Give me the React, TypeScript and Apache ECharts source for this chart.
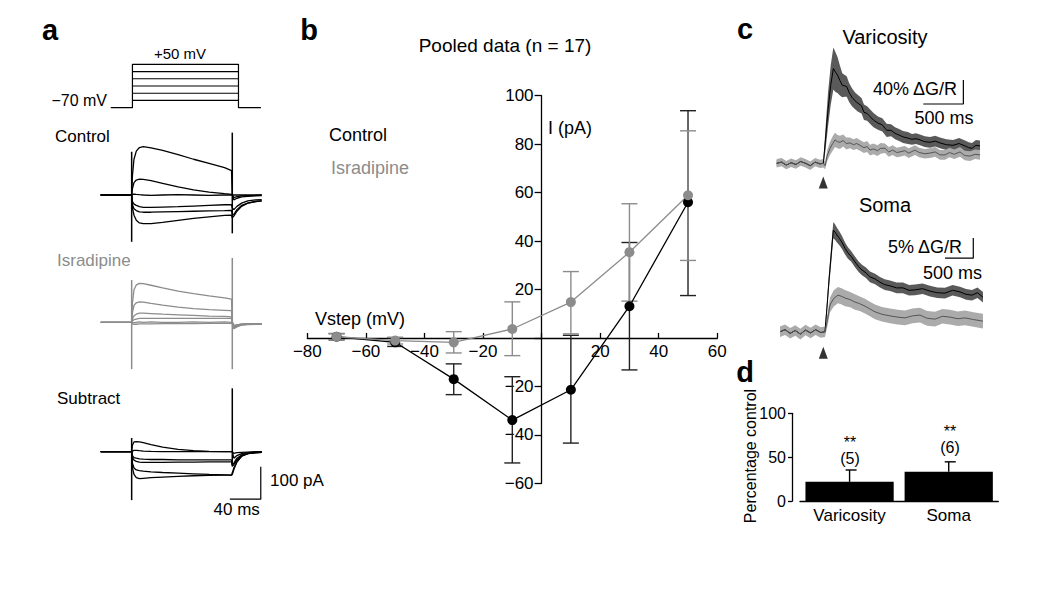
import React, { useEffect, useRef } from 'react';
import * as echarts from 'echarts';

const FONT = '"Liberation Sans", Arial, Helvetica, sans-serif';
const GRAY = '#8c8c8c';

// ---------- Panel a: voltage protocol and current traces ----------
const protoLevels = [-70, -50, -30, -10, 10, 30, 50];
const protoTimes = [13, 41, 178, 207]; // baseline start, step on, step off, baseline end (ms)
const traceT = [0, 39, 40, 41, 43, 46, 50, 55, 65, 80, 100, 120, 140, 160, 169, 170, 172, 176, 182, 190, 200, 208];
const controlTraces = [
  [0, 0, 0, 60, 110, 135, 146, 149, 145, 137, 124, 110, 97, 84, 75, 0, 0, 0, 0, 0, 0, 0],
  [0, 0, 0, 20, 38, 46, 49, 48, 44, 36, 25, 16, 9, 4, 2, 0, -8, -5, -3, -2, -1, 0],
  [0, 0, 0, 2, 3, 2, 1, 0, -1, 0, 1, 0, -1, 0, 0, 0, -15, -10, -6, -4, -3, -2],
  [0, 0, 0, -20, -28, -32, -36, -38, -38, -37, -36, -34, -32, -30, -30, -40, -45, -35, -25, -18, -15, -14],
  [0, 0, 0, -30, -42, -48, -52, -53, -53, -52, -51, -50, -49, -48, -47, -60, -60, -45, -32, -25, -20, -18],
  [0, 0, 0, -40, -62, -78, -86, -88, -88, -84, -78, -72, -67, -63, -62, -70, -65, -50, -35, -25, -20, -18],
];
const isradipineTraces = [
  [0, 0, 0, 60, 100, 115, 120, 119, 114, 106, 96, 88, 81, 75, 71, 0, -10, -8, -6, -5, -5, -5],
  [0, 0, 0, 30, 52, 60, 63, 62, 58, 53, 47, 42, 39, 37, 36, 0, -10, -8, -6, -5, -5, -5],
  [0, 0, 0, 10, 20, 25, 28, 28, 27, 25, 23, 21, 19, 18, 17, 0, -12, -9, -6, -5, -5, -5],
  [0, 0, 0, 4, 8, 10, 12, 12, 12, 12, 12, 12, 12, 12, 12, 0, -15, -10, -7, -5, -5, -5],
  [0, 0, 0, -2, -1, 0, 1, 0, 1, 0, 0, 1, 0, 1, 0, 0, -18, -12, -8, -6, -5, -5],
  [0, 0, 0, -5, -6, -6, -5, -5, -5, -4, -4, -4, -3, -3, -3, -5, -20, -14, -9, -7, -6, -5],
];
const subtractTraces = [
  [0, 0, 0, 20, 30, 31, 30, 28, 22, 14, 7, 3, 1, 0, 0, 0, -5, -3, -2, -1, 0, 0],
  [0, 0, 0, 2, 4, 4, 3, 2, 1, 0, 0, 0, 0, 0, 0, 0, -20, -12, -6, -3, -1, 0],
  [0, 0, 0, -12, -18, -20, -22, -23, -24, -24, -25, -25, -25, -25, -25, -40, -35, -20, -10, -5, -3, -2],
  [0, 0, 0, -18, -26, -30, -32, -33, -33, -33, -32, -32, -31, -31, -31, -45, -40, -25, -12, -6, -3, -2],
  [0, 0, 0, -35, -50, -56, -58, -60, -62, -64, -66, -68, -70, -71, -72, -65, -50, -30, -14, -6, -3, -2],
  [0, 0, 0, -50, -70, -80, -83, -82, -80, -78, -76, -74, -73, -72, -72, -70, -55, -32, -14, -6, -3, -2],
];
// capacitive transients: [time, high, low]
const controlTransients = [[40, 133, -144], [170, 192, -118]];
const isradipineTransients = [[40, 130, -144], [170, 198, -144]];
const subtractTransients = [[40, 42, -149], [170, 195, -40]];
const scaleA = { ms: 40, pA: 100, t: 206.8, y: -146 };

// ---------- Panel b: I-V relation ----------
const vstep = [-70, -50, -30, -10, 10, 30, 50];
const ctrlMean = [0.5, -1.8, -17, -33.9, -21.4, 13.1, 56];
const ctrlLow = [-0.8, -3.5, -23.4, -51.6, -43.4, -13.2, 17.5];
const ctrlHigh = [1.8, 0, -10.7, -16, 1.1, 39.4, 93.8];
const israMean = [0.5, -1.1, -1.8, 3.7, 14.8, 35.4, 58.9];
const israLow = [-0.8, -2.5, -6.2, -7.3, 1.7, 15.2, 32];
const israHigh = [1.8, 0.3, 2.6, 14.9, 27.4, 55.4, 85.5];
const ivX = { min: -80, max: 60, interval: 20 };
const ivY = { min: -60, max: 100, interval: 20 };

// ---------- Panel c: Ca transients (%ΔG/R) ----------
const varBlackT = [0, 60, 120, 180, 240, 300, 360, 420, 480, 540, 583, 610, 641, 675, 708, 735, 760, 790, 820, 850, 875, 905, 941, 980, 1016, 1060, 1091, 1130, 1166, 1210, 1266, 1320, 1375, 1430, 1479, 1530, 1579, 1640, 1691, 1740, 1791, 1850, 1916, 1980, 2041, 2120, 2204, 2280, 2354, 2400, 2441, 2490, 2541];
const varBlackM = [0, 2, -3, 1, -2, 3, 0, -4, 2, -1, 0, 40, 89, 130, 158, 152, 147, 138, 130, 129, 128, 118, 110, 104, 100, 96, 85, 83, 78, 72, 67, 64, 55, 55, 50, 47, 44, 42, 40, 41, 39, 36, 35, 37, 34, 31, 30, 33, 29, 26, 25, 30, 29];
const varBlackSd = [5, 5, 5, 5, 5, 5, 5, 5, 5, 5, 5, 18, 28, 33, 35, 33, 30, 25, 20, 18, 17, 16, 15, 14, 14, 13, 13, 12, 12, 12, 11, 11, 11, 10, 10, 10, 10, 10, 9, 9, 9, 9, 9, 9, 9, 9, 9, 9, 9, 9, 9, 9, 9];
const varGrayT = [0, 60, 120, 180, 240, 300, 360, 420, 480, 540, 583, 605, 630, 666, 700, 729, 760, 791, 830, 870, 916, 960, 1000, 1041, 1090, 1130, 1166, 1210, 1260, 1300, 1354, 1400, 1450, 1500, 1541, 1600, 1650, 1729, 1780, 1850, 1916, 1980, 2040, 2104, 2160, 2220, 2291, 2350, 2416, 2480, 2541];
const varGrayM = [0, 2, -3, 1, -2, 3, 0, -4, 2, -1, 0, -4, 12, 25, 33, 39, 36, 35, 38, 33, 34, 31, 33, 30, 26, 28, 22, 24, 21, 25, 25, 19, 22, 18, 19, 21, 17, 22, 18, 16, 17, 19, 14, 14, 18, 15, 19, 13, 12, 15, 14];
const varGraySd = [7, 7, 7, 7, 7, 7, 7, 7, 7, 7, 7, 6, 9, 11, 12, 12, 11, 11, 10, 10, 9, 9, 9, 9, 9, 9, 9, 9, 9, 9, 8, 8, 8, 8, 8, 8, 8, 8, 8, 8, 8, 8, 8, 8, 8, 8, 8, 8, 8, 8, 8];
const somaBlackT = [0, 90, 180, 270, 360, 450, 540, 630, 720, 795, 830, 866, 905, 942, 975, 1007, 1050, 1096, 1150, 1201, 1260, 1325, 1390, 1449, 1520, 1590, 1680, 1767, 1850, 1944, 2060, 2173, 2280, 2385, 2520, 2651, 2780, 2916, 3050, 3181, 3290, 3393, 3490, 3587];
const somaBlackM = [0, 0.5, -0.4, 0.3, -0.6, 0.4, -0.3, 0.5, -0.2, 0, 6, 12.7, 19, 25, 24.5, 23.8, 23, 22, 20.5, 19.4, 18.5, 17.2, 16, 15.2, 14.5, 13.5, 13, 12.2, 11.6, 11.3, 10.8, 10.8, 10.2, 10.3, 10.6, 10, 9.6, 9.5, 10.2, 9.8, 9.2, 9, 9.6, 8.5];
const somaBlackSd = [1, 1, 1, 1, 1, 1, 1, 1, 1, 1, 1.5, 1.8, 2, 2, 1.9, 1.8, 1.7, 1.6, 1.5, 1.4, 1.3, 1.3, 1.3, 1.3, 1.3, 1.3, 1.3, 1.3, 1.3, 1.3, 1.3, 1.3, 1.3, 1.3, 1.3, 1.3, 1.3, 1.3, 1.3, 1.3, 1.3, 1.3, 1.3, 1.3];
const somaGrayT = [0, 90, 180, 270, 360, 450, 540, 630, 720, 795, 840, 884, 950, 1025, 1090, 1149, 1240, 1325, 1410, 1502, 1590, 1679, 1800, 1944, 2080, 2209, 2340, 2474, 2600, 2739, 2870, 3004, 3140, 3269, 3420, 3587];
const somaGrayM = [0, 0.5, -0.4, 0.3, -0.6, 0.4, -0.3, 0.5, -0.2, 0, 3, 6.6, 8.2, 9, 8.7, 8.3, 7.9, 7.3, 6.9, 6.3, 5.6, 4.9, 4.3, 3.9, 3.6, 3.4, 3.9, 4.1, 3.3, 3.1, 3.8, 3.6, 3.2, 3.4, 3.0, 2.6];
const somaGraySd = [1.3, 1.3, 1.3, 1.3, 1.3, 1.3, 1.3, 1.3, 1.3, 1.3, 1.5, 1.8, 2, 2, 2, 2, 1.9, 1.9, 1.8, 1.8, 1.8, 1.8, 1.8, 1.8, 1.8, 1.8, 1.8, 1.8, 1.8, 1.8, 1.8, 1.8, 1.8, 1.8, 1.8, 1.8];
const varStim = [582, -32];
const somaStim = [765, -5.2];
const varScale = { ms: 500, pct: 40, t: 2333, y: 98.8 };
const somaScale = { ms: 500, pct: 5, t: 3416, y: 18.1 };

// ---------- Panel d: summary bars ----------
const dCats = ['Varicosity', 'Soma'];
const dValues = [22, 33.4];
const dErr = [35.5, 44.8];
const dStars = ['**', '**'];
const dN = ['(5)', '(6)'];

function hiddenAxes(g: number, xmin: number, xmax: number, ymin: number, ymax: number) {
  return {
    x: { gridIndex: g, type: 'value', min: xmin, max: xmax, show: false },
    y: { gridIndex: g, type: 'value', min: ymin, max: ymax, show: false },
  };
}

function plain(g: number, data: number[][], color: string, width = 1.3, extra: any = {}) {
  return {
    type: 'line', xAxisIndex: g, yAxisIndex: g, data, symbol: 'none', silent: true, clip: false,
    lineStyle: { color, width }, ...extra,
  };
}

function traceSeries(g: number, traces: number[][], transients: number[][], color: string) {
  const out: any[] = [];
  traces.forEach((tr) => out.push(plain(g, traceT.map((t, i) => [t, tr[i]]), color, 1.3)));
  transients.forEach(([t, hi, lo]) => out.push(plain(g, [[t, hi], [t, lo]], color, 1.5)));
  return out;
}

// band (mean ± sd) drawn as one polygon through the axis scale
function bandSeries(g: number, t: number[], m: number[], sd: number[], bandColor: string) {
  const data = t.map((x, i) => [x, m[i] - sd[i], m[i] + sd[i]]);
  return {
    type: 'custom', xAxisIndex: g, yAxisIndex: g, silent: true, data,
    encode: { x: 0, y: [1, 2] },
    renderItem: (params: any, api: any) => {
      if (params.dataIndex !== 0) return null;
      const upper = data.map((d) => api.coord([d[0], d[2]]));
      const lower = data.map((d) => api.coord([d[0], d[1]])).reverse();
      return { type: 'polygon', shape: { points: upper.concat(lower) }, style: { fill: bandColor, stroke: 'none' } };
    },
  };
}

function errorBars(g: number, xs: number[], lo: number[], hi: number[], color: string, cap: number) {
  return {
    type: 'custom', xAxisIndex: g, yAxisIndex: g, silent: true,
    data: xs.map((x, i) => [x, lo[i], hi[i]]),
    encode: { x: 0, y: [1, 2] },
    renderItem: (params: any, api: any) => {
      const a = api.coord([api.value(0), api.value(1)]);
      const b = api.coord([api.value(0), api.value(2)]);
      const st = { stroke: color, lineWidth: 1.4 };
      return {
        type: 'group',
        children: [
          { type: 'line', shape: { x1: a[0], y1: a[1], x2: b[0], y2: b[1] }, style: st },
          { type: 'line', shape: { x1: a[0] - cap, y1: a[1], x2: a[0] + cap, y2: a[1] }, style: st },
          { type: 'line', shape: { x1: b[0] - cap, y1: b[1], x2: b[0] + cap, y2: b[1] }, style: st },
        ],
      };
    },
  };
}

function txt(text: string, x: number, y: number, size: number, align = 'left', extra: any = {}, color = '#000') {
  const { bold, lineHeight, ...rest } = extra;
  const style: any = { text, fill: color, fontSize: size, fontFamily: FONT, textAlign: align, textVerticalAlign: 'middle', fontWeight: bold ? 'bold' : 'normal' };
  if (lineHeight) style.lineHeight = lineHeight;
  return { type: 'text', x, y, silent: true, ...rest, style };
}

const minus = (v: number) => (v === 0 ? '' : String(v).replace('-', '\u2212'));

export default function App() {
  const ref = useRef<HTMLDivElement>(null);
  useEffect(() => {
    if (!ref.current) return;
    const chart = echarts.init(ref.current, undefined, { renderer: 'svg' });

    const ivGrid = { left: 307.3, top: 95.7, width: 410, height: 387.6 };
    const grids = [
      { left: 100.7, top: 64.3, width: 161, height: 43.4 }, // 0 protocol
      { left: 100.7, top: 130, width: 161, height: 130 }, // 1 control
      { left: 100.7, top: 257.3, width: 161, height: 130 }, // 2 isradipine
      { left: 100.7, top: 386.7, width: 161, height: 130 }, // 3 subtract
      ivGrid, // 4 IV
      { left: 776.7, top: 43.3, width: 203.3, height: 144 }, // 5 varicosity
      { left: 780, top: 209.9, width: 203.3, height: 154.3 }, // 6 soma
      { left: 800, top: 413.3, width: 198.3, height: 87.9 }, // 7 bars
    ];

    // offsets that put the IV axes through the origin
    const xOff = -ivGrid.height * (0 - ivY.min) / (ivY.max - ivY.min);
    const yOff = -ivGrid.width * (0 - ivX.min) / (ivX.max - ivX.min);

    const ax = [
      hiddenAxes(0, 0, 208, -70, 50),
      hiddenAxes(1, 0, 208, -200, 200),
      hiddenAxes(2, 0, 208, -200, 200),
      hiddenAxes(3, 0, 208, -200, 200),
      null,
      hiddenAxes(5, 0, 2541, -40, 200),
      hiddenAxes(6, 0, 3593, -8, 30),
      null,
    ];

    const xAxis: any[] = [];
    const yAxis: any[] = [];
    ax.forEach((a, i) => {
      if (a) { xAxis.push(a.x); yAxis.push(a.y); return; }
      if (i === 4) {
        xAxis.push({
          gridIndex: 4, type: 'value', ...ivX, position: 'bottom', offset: xOff,
          axisLine: { onZero: false, lineStyle: { color: '#000', width: 1.3 } },
          axisTick: { inside: true, length: 5, lineStyle: { color: '#000', width: 1.3 } },
          axisLabel: { formatter: minus, fontSize: 17, color: '#000', fontFamily: FONT, margin: 5 },
          splitLine: { show: false },
        });
        yAxis.push({
          gridIndex: 4, type: 'value', ...ivY, position: 'left', offset: yOff,
          axisLine: { onZero: false, lineStyle: { color: '#000', width: 1.3 } },
          axisTick: { show: true, length: 7, lineStyle: { color: '#000', width: 1.3 } },
          axisLabel: { formatter: minus, fontSize: 17, color: '#000', fontFamily: FONT, margin: 8 },
          splitLine: { show: false },
        });
      } else {
        xAxis.push({
          gridIndex: 7, type: 'category', data: dCats,
          axisLine: { lineStyle: { color: '#000', width: 1.3 } },
          axisTick: { length: 5, lineStyle: { color: '#000', width: 1.3 } },
          axisLabel: { fontSize: 17, color: '#000', fontFamily: FONT, margin: 6 },
        });
        yAxis.push({
          gridIndex: 7, type: 'value', min: 0, max: 100, interval: 50, offset: 8,
          axisLine: { show: true, lineStyle: { color: '#000', width: 1.3 } },
          axisTick: { show: true, length: 4, lineStyle: { color: '#000', width: 1.3 } },
          axisLabel: { fontSize: 16, color: '#000', fontFamily: FONT, margin: 6 },
          splitLine: { show: false },
        });
      }
    });

    const series: any[] = [];
    // protocol
    const [tb0, ton, toff, tb1] = protoTimes;
    const lo = protoLevels[0];
    const hi = protoLevels[protoLevels.length - 1];
    series.push(plain(0, [[tb0, lo], [ton, lo], [ton, hi], [toff, hi], [toff, lo], [tb1, lo]], '#000', 1.2));
    protoLevels.slice(1, -1).forEach((lv) => series.push(plain(0, [[ton, lv], [toff, lv]], '#000', 1.2)));
    // traces
    series.push(...traceSeries(1, controlTraces, controlTransients, '#000'));
    series.push(...traceSeries(2, isradipineTraces, isradipineTransients, GRAY));
    series.push(...traceSeries(3, subtractTraces, subtractTransients, '#000'));
    series.push(plain(3, [[scaleA.t - scaleA.ms, scaleA.y], [scaleA.t, scaleA.y], [scaleA.t, scaleA.y + scaleA.pA]], '#000', 1.2));

    // IV
    series.push(errorBars(4, vstep, ctrlLow, ctrlHigh, '#222', 8));
    series.push({
      type: 'line', xAxisIndex: 4, yAxisIndex: 4, data: vstep.map((v, i) => [v, ctrlMean[i]]),
      symbol: 'circle', symbolSize: 10, itemStyle: { color: '#000' }, lineStyle: { color: '#000', width: 1.3 }, silent: true,
    });
    series.push(errorBars(4, vstep, israLow, israHigh, '#8c8c8c', 8));
    series.push({
      type: 'line', xAxisIndex: 4, yAxisIndex: 4, data: vstep.map((v, i) => [v, israMean[i]]),
      symbol: 'circle', symbolSize: 10, itemStyle: { color: '#8c8c8c' }, lineStyle: { color: '#8c8c8c', width: 1.3 }, silent: true,
    });

    // Varicosity
    series.push(bandSeries(5, varBlackT, varBlackM, varBlackSd, '#5a5a5a'));
    series.push(plain(5, varBlackT.map((t, i) => [t, varBlackM[i]]), '#000', 1));
    series.push(bandSeries(5, varGrayT, varGrayM, varGraySd, '#ababab'));
    series.push(plain(5, varGrayT.map((t, i) => [t, varGrayM[i]]), '#555', 1));
    series.push({ type: 'scatter', xAxisIndex: 5, yAxisIndex: 5, data: [varStim], symbol: 'triangle', symbolSize: [9, 12], itemStyle: { color: '#000' }, silent: true });
    series.push(plain(5, [[varScale.t - varScale.ms, varScale.y], [varScale.t, varScale.y], [varScale.t, varScale.y + varScale.pct]], '#000', 1.2));

    // Soma
    series.push(bandSeries(6, somaBlackT, somaBlackM, somaBlackSd, '#5a5a5a'));
    series.push(plain(6, somaBlackT.map((t, i) => [t, somaBlackM[i]]), '#000', 1));
    series.push(bandSeries(6, somaGrayT, somaGrayM, somaGraySd, '#ababab'));
    series.push(plain(6, somaGrayT.map((t, i) => [t, somaGrayM[i]]), '#555', 1));
    series.push({ type: 'scatter', xAxisIndex: 6, yAxisIndex: 6, data: [somaStim], symbol: 'triangle', symbolSize: [9, 12], itemStyle: { color: '#000' }, silent: true });
    series.push(plain(6, [[somaScale.t - somaScale.ms, somaScale.y], [somaScale.t, somaScale.y], [somaScale.t, somaScale.y + somaScale.pct]], '#000', 1.2));

    // Bars
    series.push({
      type: 'bar', xAxisIndex: 7, yAxisIndex: 7, data: dValues, barWidth: '89%', itemStyle: { color: '#000' }, silent: true,
    });
    series.push({
      type: 'custom', xAxisIndex: 7, yAxisIndex: 7, silent: true,
      data: dCats.map((c, i) => [i, dValues[i], dErr[i]]),
      renderItem: (params: any, api: any) => {
        const a = api.coord([api.value(0), api.value(1)]);
        const b = api.coord([api.value(0), api.value(2)]);
        const st = { stroke: '#000', lineWidth: 1.4 };
        return {
          type: 'group',
          children: [
            { type: 'line', shape: { x1: a[0], y1: a[1], x2: b[0], y2: b[1] }, style: st },
            { type: 'line', shape: { x1: b[0] - 4, y1: b[1], x2: b[0] + 7, y2: b[1] }, style: st },
          ],
        };
      },
    });

    const graphic: any[] = [
      txt('a', 50, 30, 29, 'center', { bold: true }),
      txt('+50 mV', 180, 53, 15, 'center'),
      txt('\u221270 mV', 107, 100, 16, 'right'),
      txt('Control', 55, 136, 17),
      txt('Isradipine', 57, 260, 17, 'left', {}, GRAY),
      txt('Subtract', 57, 398, 17),
      txt('100 pA', 270, 480, 17),
      txt('40 ms', 236.7, 509.5, 17, 'center'),
      txt('b', 309, 30, 29, 'center', { bold: true }),
      txt('Pooled data (n = 17)', 505, 45, 19, 'center'),
      txt('Control', 329, 135, 18),
      txt('Isradipine', 331, 168, 18, 'left', {}, GRAY),
      txt('I (pA)', 548, 128, 18),
      txt('Vstep (mV)', 315, 319, 18),
      txt('c', 745, 29, 29, 'center', { bold: true }),
      txt('Varicosity', 885, 37, 20, 'center'),
      txt('40% \u0394G/R', 957, 89, 18, 'right'),
      txt('500 ms', 944, 117.5, 18, 'center'),
      txt('Soma', 885, 205, 20, 'center'),
      txt('5% \u0394G/R', 962, 246.7, 18, 'right'),
      txt('500 ms', 952.5, 272.7, 18, 'center'),
      txt('d', 745, 372, 29, 'center', { bold: true }),
      txt('Percentage control', 750, 456, 16, 'center', { rotation: Math.PI / 2 }),
      txt(dStars[0], 850, 442.5, 16, 'center'),
      txt(dN[0], 850, 458.5, 16, 'center'),
      txt(dStars[1], 950, 431.5, 16, 'center'),
      txt(dN[1], 950, 447.5, 16, 'center'),
    ];

    chart.setOption({
      animation: false,
      backgroundColor: '#fff',
      grid: grids,
      xAxis,
      yAxis,
      series,
      graphic,
    });
    return () => chart.dispose();
  }, []);
  return <div ref={ref} style={{ position: 'fixed', left: 0, top: 0, width: 1050, height: 592, background: '#fff' }} />;
}
